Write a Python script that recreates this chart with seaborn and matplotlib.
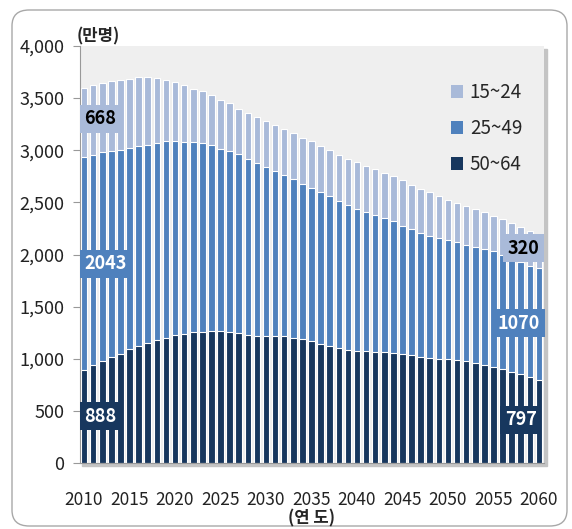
import seaborn as sns
import matplotlib.pyplot as plt
import pandas as pd
from matplotlib.patches import Patch, Rectangle, FancyBboxPatch

years = list(range(2010, 2061))
age50_64 = [888, 939, 977, 1012, 1050, 1089, 1124, 1150, 1180, 1203,
            1228, 1242, 1254, 1261, 1265, 1264, 1257, 1245, 1232, 1222,
            1219, 1218, 1215, 1203, 1188, 1170, 1145, 1122, 1103, 1086,
            1075, 1070, 1063, 1060, 1057, 1047, 1035, 1021, 1007, 997,
            995, 989, 977, 963, 943, 925, 900, 874, 856, 822, 797]
age25_49 = [2043, 2018, 2002, 1980, 1955, 1929, 1915, 1903, 1892, 1881,
            1858, 1838, 1823, 1804, 1781, 1752, 1737, 1715, 1681, 1652,
            1619, 1585, 1550, 1523, 1490, 1471, 1452, 1435, 1408, 1386,
            1363, 1340, 1314, 1290, 1261, 1231, 1212, 1190, 1175, 1164,
            1145, 1128, 1116, 1107, 1112, 1108, 1093, 1086, 1070, 1072, 1070]
age15_24 = [668, 668, 669, 669, 668, 669, 660, 647, 618, 590,
            569, 549, 515, 500, 487, 466, 455, 439, 447, 448,
            442, 438, 440, 438, 442, 443, 443, 443, 445, 446,
            447, 439, 443, 433, 432, 434, 421, 419, 415, 399,
            387, 378, 371, 368, 356, 341, 348, 342, 338, 331, 320]
groups = ["15~24", "25~49", "50~64"]
colors = ["#a9bad9", "#4f81bd", "#17375e"]

df = pd.DataFrame({"year": years, "dark": age50_64,
                   "mid": age25_49, "light": age15_24})
df["cum_mid"] = df["dark"] + df["mid"]
df["total"] = df["cum_mid"] + df["light"]

sns.set_style("white")
plt.rcParams["font.family"] = ["Noto Sans CJK KR", "DejaVu Sans"]

W, H = 572, 529
fig = plt.figure(figsize=(W / 100, H / 100), dpi=100)
x0, x1, y0, y1 = 79.5, 543.5, 46, 463
ax = fig.add_axes([x0 / W, 1 - y1 / H, (x1 - x0) / W, (y1 - y0) / H])
ax.set_zorder(2)

# outer rounded frame and plot-area shadow
fig.patches.append(FancyBboxPatch((12 / W, 3 / H), 555 / W, 516 / H,
                                  boxstyle="round,pad=0,rounding_size=0.03",
                                  transform=fig.transFigure, fill=False,
                                  ec="#a8a8a8", lw=1.0, zorder=-1))
fig.patches.append(Rectangle(((x0 + 3) / W, 1 - (y1 + 3) / H), (x1 - x0) / W, (y1 - y0) / H,
                             transform=fig.transFigure, color="#c4c4c4", zorder=-1))
ax.set_facecolor("#efefef")

for col, c in zip(["total", "cum_mid", "dark"], colors):
    sns.barplot(data=df, x="year", y=col, color=c, saturation=1, width=0.72,
                edgecolor="white", linewidth=0.8, ax=ax)

ax.set_xlim(-0.5, 50.5)
ax.set_ylim(0, 4000)
ax.set_yticks(range(0, 4001, 500))
ax.set_yticklabels([f"{v:,}" for v in range(0, 4001, 500)], fontsize=13, color="#222222")
ax.set_xticks(range(0, 51, 5))
ax.set_xticklabels([str(y) for y in years[::5]], fontsize=12.5, color="#222222")
ax.set_xticks([i - 0.5 for i in range(0, 51, 5)], minor=True)
ax.tick_params(axis="x", which="major", length=0, pad=20)
ax.tick_params(axis="x", which="minor", length=5, color="#999999", direction="out")
ax.tick_params(axis="y", length=5, color="#999999", direction="out", pad=6, left=True)
for s in ["top", "right"]:
    ax.spines[s].set_visible(False)
for s in ["left", "bottom"]:
    ax.spines[s].set_color("#999999")
ax.set_ylabel("")
ax.set_xlabel("(연 도)", fontsize=12, fontweight="bold", labelpad=0.5)

fig.text(77 / W, 1 - 36 / H, "(만명)", fontsize=12, fontweight="bold", va="center")

labels = [(1.8, 3300, "668", "black", colors[0]),
          (2.4, 1912, "2043", "white", colors[1]),
          (1.8, 450, "888", "white", colors[2]),
          (48.3, 2061, "320", "black", colors[0]),
          (47.8, 1340, "1070", "white", colors[1]),
          (48.0, 413, "797", "white", colors[2])]
for xi, yv, t, tc, bc in labels:
    ax.text(xi, yv, t, ha="center", va="center", fontsize=13, fontweight="bold",
            color=tc, bbox=dict(boxstyle="square,pad=0.25", fc=bc, ec="none"))

handles = [Patch(facecolor=c, edgecolor="none") for c in colors]
ax.legend(handles, groups, loc="upper left", bbox_to_anchor=(451 / W, 1 - 82 / H),
          bbox_transform=fig.transFigure,
          frameon=False, fontsize=13.5, handlelength=0.65, handleheight=0.65,
          handletextpad=0.35, labelspacing=0.8, borderpad=0, borderaxespad=0)

fig.savefig("out.png", dpi=100)
